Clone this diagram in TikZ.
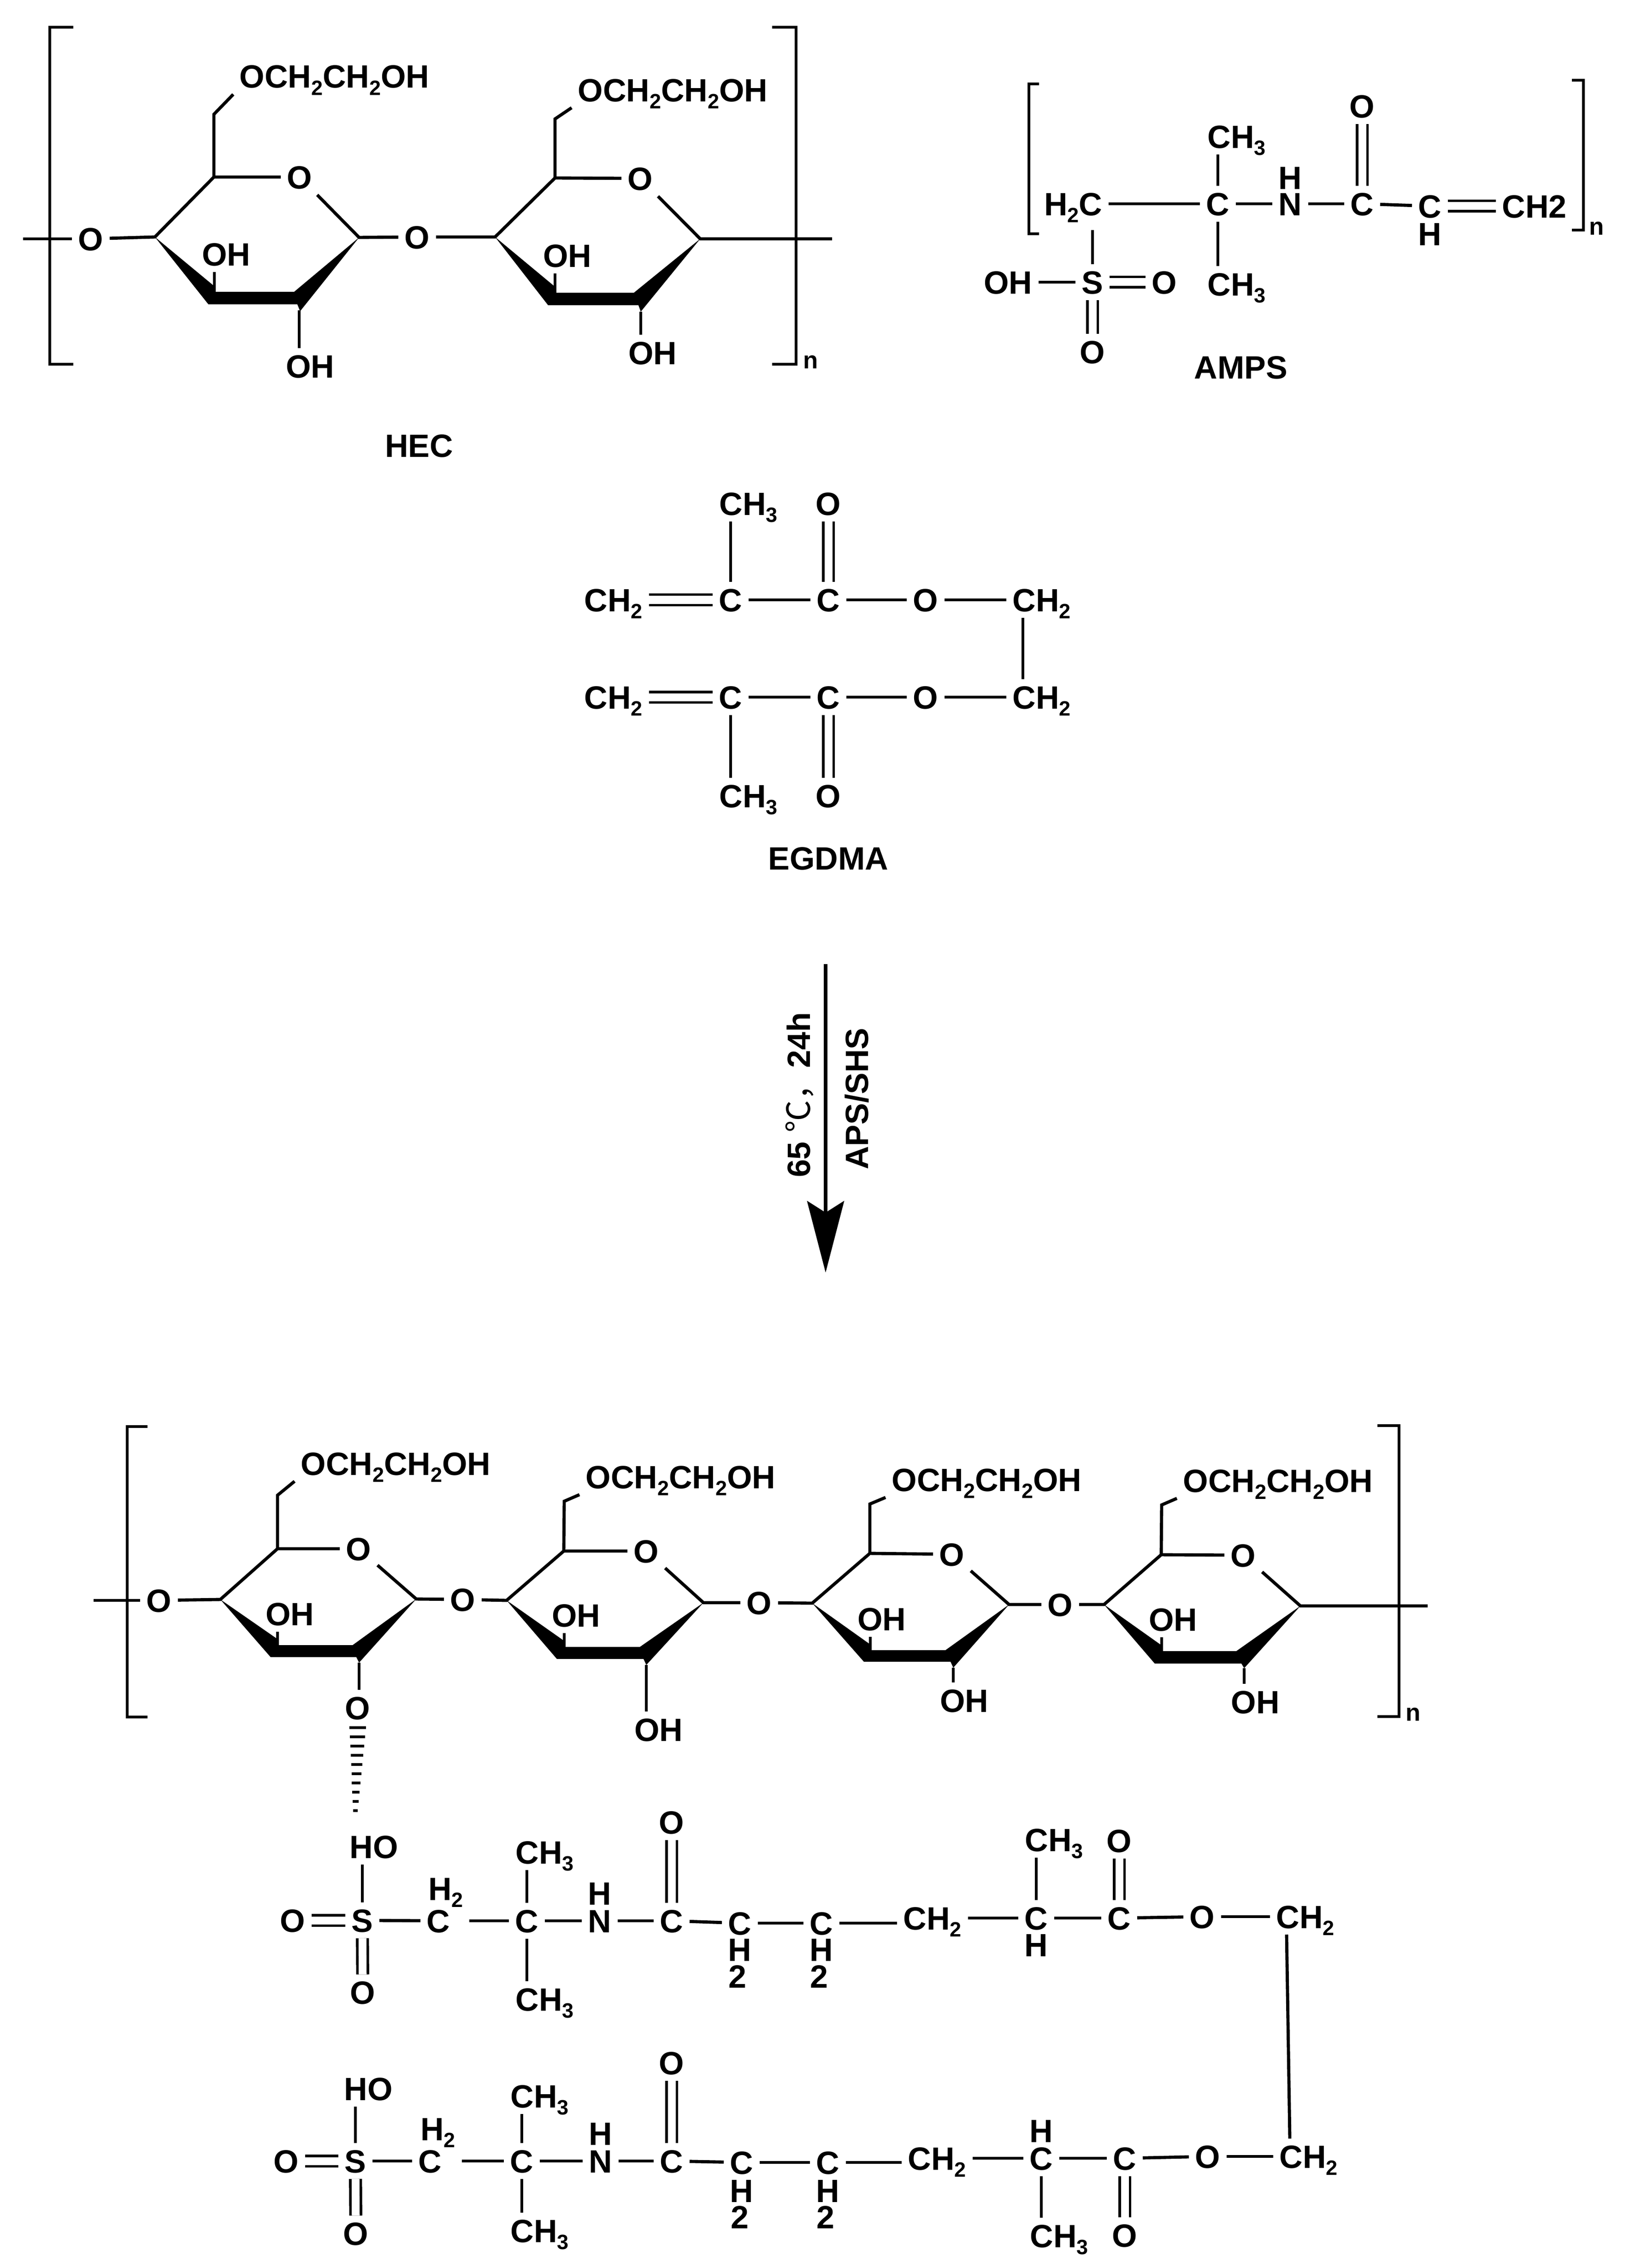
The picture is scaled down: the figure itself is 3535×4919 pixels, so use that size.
\documentclass[tikz,border=0pt]{standalone}
\usepackage{fontspec}
\setmainfont{Liberation Sans}
\newfontfamily\cjkf{Noto Sans CJK SC}
\usetikzlibrary{arrows.meta,calc}
\newcommand\subn[1]{\raisebox{-.15cm}{\fontsize{12.8pt}{14pt}\selectfont #1}}
\newcommand\atom[4]{\node[lbl] (#1) at (#2,#3) {#4};}
\newcommand\stk[4]{\node[lbl,inner ysep=0pt] (#1) at (#2,#3) {#4};}
\newcommand\tagn[4]{\node[lbl,inner sep=0pt] (#1) at (#2,#3) {#4};}
\newcommand\labW[4]{\node[lbl,anchor=west,xshift=-.13cm] (#1) at (#2,#3) {#4};}
\newcommand\labE[4]{\node[lbl,anchor=east,xshift=.13cm] (#1) at (#2,#3) {#4};}
\newcommand\brkL[4]{\draw[bond] (#3,#1) -- (#2,#1) -- (#2,#4) -- (#3,#4);}
\newcommand\side{OCH\subn{2}CH\subn{2}OH}
\tikzset{
  lbl/.style={font=\fontsize{19.9pt}{24pt}\selectfont\bfseries,text height=.5cm,text depth=0pt,inner sep=.13cm},
  nlbl/.style={font=\fontsize{15pt}{18pt}\selectfont\bfseries,inner sep=0pt},
  bond/.style={line width=1.95pt,black},
  dbl/.style={line width=1.6pt,double,double distance=.17cm},
}
\begin{document}
\begin{tikzpicture}[x=0.01cm,y=-0.01cm]
\useasboundingbox (0,0) rectangle (3535,4919);

% ---------- HEC ----------
\brkL{59}{108}{159}{790}
\brkL{59}{1727}{1675}{790}
\node[nlbl] (hecn) at (1759,785) {n};
\coordinate (hecL) at (50,518);
\coordinate (hecR) at (1805,518);
\atom{hO}{197}{518}{O}
\coordinate (aC4) at (336,514);
\coordinate (aC5) at (464,384);
\coordinate (aCH) at (464,248);
\atom{aO}{650}{384}{O}
\coordinate (aC1) at (779,515);
\atom{hB}{905}{514}{O}
\coordinate (bC4) at (1074,514);
\coordinate (bC5) at (1204,386);
\coordinate (bCH) at (1204,258);
\atom{bO}{1389}{387}{O}
\coordinate (bC1) at (1519,518);
\labW{aS}{519}{166}{\side}
\labW{bS}{1253}{195}{\side}
\atom{aOHu}{491}{551}{OH}
\atom{aOHd}{673}{794}{OH}
\atom{bOHu}{1231}{554}{OH}
\atom{bOHd}{1416}{765}{OH}
\coordinate (aU) at (465,633);
\coordinate (aD) at (649,673);
\coordinate (bU) at (1204,635);
\coordinate (bD) at (1390,676);
\fill (aC4) -- (464,620) -- (464,633) -- (638,633) -- (aC1) -- (651,675) -- (645,660) -- (452,660) -- cycle;
\fill (bC4) -- (1204,622) -- (1204,635) -- (1375,635) -- (bC1) -- (1390,676) -- (1385,662) -- (1189,662) -- cycle;
\draw[bond] (hecL) -- (hO);
\draw[bond] (hO) -- (aC4) -- (aC5) -- (aO);
\draw[bond] (aO) -- (aC1) -- (hB);
\draw[bond] (hB) -- (bC4) -- (bC5) -- (bO);
\draw[bond] (bO) -- (bC1) -- (hecR);
\draw[bond] (aC5) -- (aCH) -- (aS.south west);
\draw[bond] (bC5) -- (bCH) -- (bS.south west);
\draw[bond] (aU) -- (aOHu.south -| aU);
\draw[bond] (aD) -- (aOHd.north -| aD);
\draw[bond] (bU) -- (bOHu.south -| bU);
\draw[bond] (bD) -- (bOHd.north -| bD);
\atom{hec}{909}{966}{HEC}

% ---------- AMPS ----------
\brkL{182}{2232}{2254}{507}
\brkL{174}{3435}{3410}{499}
\node[nlbl] (ampsn) at (3464,495) {n};
\labE{mH}{2392}{442}{H\subn{2}C}
\atom{mC}{2642}{442}{C}
\labW{mMe}{2619}{296}{CH\subn{3}}
\labW{mMf}{2619}{616}{CH\subn{3}}
\stk{mN}{2799}{442}{N}
\tagn{mNH}{2799}{385}{H}
\atom{mCO}{2955}{442}{C}
\atom{mO}{2955}{230}{O}
\stk{mCH}{3102}{447}{C}
\tagn{mHH}{3102}{507}{H}
\labW{mEnd}{3258}{447}{CH2}
\atom{mS}{2370}{612}{S}
\atom{mOH}{2187}{612}{OH}
\atom{mOr}{2526}{612}{O}
\atom{mOb}{2370}{763}{O}
\draw[bond] (mC) -- (mH.east |- mC);
\draw[bond] (mC) -- (mMe.south -| mC);
\draw[bond] (mC) -- (mMf.north -| mC);
\draw[bond] (mC) -- (mN);
\draw[bond] (mN) -- (mCO);
\draw[dbl] (mCO) -- (mO);
\draw[bond] (mCO) -- (mCH);
\draw[dbl] (mCH) -- (mEnd.west |- mCH);
\draw[bond] (mS) -- ([yshift=-.18cm]mH.south -| mS);
\draw[bond] (mOH) -- (mS);
\draw[dbl] (mS) -- (mOr);
\draw[dbl] (mS) -- (mOb);
\atom{amps}{2692}{796}{AMPS}

% ---------- EGDMA ----------
\labW{eA}{1267}{1301}{CH\subn{2}}
\atom{eC1}{1585}{1301}{C}
\atom{eC2}{1797}{1301}{C}
\atom{eO1}{2008}{1301}{O}
\labW{eB}{2196}{1301}{CH\subn{2}}
\labW{eMe}{1560}{1092}{CH\subn{3}}
\atom{eOt}{1797}{1092}{O}
\labW{eC}{1267}{1512}{CH\subn{2}}
\atom{eC3}{1585}{1512}{C}
\atom{eC4}{1797}{1512}{C}
\atom{eO2}{2008}{1512}{O}
\labW{eD}{2196}{1512}{CH\subn{2}}
\labW{eMf}{1560}{1726}{CH\subn{3}}
\atom{eOb}{1797}{1726}{O}
\draw[dbl] (eC1) -- (eA.east |- eC1);
\draw[bond] (eC1) -- (eC2);
\draw[bond] (eC2) -- (eO1);
\draw[bond] (eO1) -- (eB.west |- eO1);
\draw[bond] (eC1) -- (eMe.south -| eC1);
\draw[dbl] (eC2) -- (eOt);
\draw[dbl] (eC3) -- (eC.east |- eC3);
\draw[bond] (eC3) -- (eC4);
\draw[bond] (eC4) -- (eO2);
\draw[bond] (eO2) -- (eD.west |- eO2);
\draw[bond] (eC3) -- (eMf.north -| eC3);
\draw[dbl] (eC4) -- (eOb);
\draw[bond] ([xshift=.36cm]eB.south west) -- ([xshift=.36cm]eD.north west);
\atom{egdma}{1797}{1861}{EGDMA}

% ---------- Arrow ----------
\coordinate (arS) at (1791,2091);
\coordinate (arE) at (1791,2760);
\draw[line width=2.1pt,-{Stealth[length=1.55cm,width=.8cm,inset=.25cm]}] (arS) -- (arE);
\node[lbl,rotate=90] (cond) at (1732,2375) {65 {\cjkf\mdseries ℃，}24h};
\node[lbl,rotate=90] (init) at (1858,2383) {APS/SHS};

% ---------- Product backbone ----------
\brkL{3094}{276}{320}{3724}
\brkL{3092}{3035}{2988}{3723}
\node[nlbl] (prodn) at (3066,3718) {n};
\coordinate (pL) at (203,3471);
\coordinate (pR) at (3097,3483);
\atom{pO0}{345}{3471}{O}
\coordinate (pC4) at (478,3469);
\coordinate (pC5) at (602,3359);
\coordinate (pCH) at (602,3243);
\atom{pO}{778}{3359}{O}
\coordinate (pC1) at (903,3468);
\atom{pB}{1004}{3469}{O}
\coordinate (qC4) at (1099,3471);
\coordinate (qC5) at (1223,3364);
\coordinate (qCH) at (1224,3256);
\atom{qO}{1402}{3364}{O}
\coordinate (qC1) at (1526,3476);
\atom{qB}{1647}{3476}{O}
\coordinate (rC4) at (1762,3477);
\coordinate (rC5) at (1887,3369);
\coordinate (rCH) at (1887,3262);
\atom{rO}{2065}{3371}{O}
\coordinate (rC1) at (2189,3480);
\atom{rB}{2300}{3480}{O}
\coordinate (sC4) at (2395,3480);
\coordinate (sC5) at (2519,3372);
\coordinate (sCH) at (2520,3264);
\atom{sO}{2697}{3373}{O}
\coordinate (sC1) at (2821,3483);
\labW{pS}{652}{3174}{\side}
\labW{qS}{1270}{3203}{\side}
\labW{rS}{1934}{3209}{\side}
\labW{sS}{2566}{3211}{\side}
\atom{pOHu}{629}{3500}{OH}
\atom{qOHu}{1250}{3503}{OH}
\atom{rOHu}{1913}{3511}{OH}
\atom{sOHu}{2545}{3512}{OH}
\atom{pOd}{776}{3704}{O}
\atom{qOHd}{1429}{3751}{OH}
\atom{rOHd}{2092}{3688}{OH}
\atom{sOHd}{2723}{3691}{OH}
\coordinate (pU) at (602,3568);
\coordinate (qU) at (1224,3572);
\coordinate (rU) at (1888,3579);
\coordinate (sU) at (2520,3581);
\coordinate (pD) at (779,3606);
\coordinate (qD) at (1402,3611);
\coordinate (rD) at (2068,3617);
\coordinate (sD) at (2699,3618);
\fill (pC4) -- (602,3555) -- (602,3568) -- (765,3568) -- (pC1) -- (779,3606) -- (773,3594) -- (587,3594) -- cycle;
\fill (qC4) -- (1224,3559) -- (1224,3572) -- (1388,3572) -- (qC1) -- (1402,3611) -- (1396,3598) -- (1208,3598) -- cycle;
\fill (rC4) -- (1887,3566) -- (1887,3579) -- (2051,3579) -- (rC1) -- (2068,3617) -- (2062,3604) -- (1874,3604) -- cycle;
\fill (sC4) -- (2519,3568) -- (2519,3581) -- (2682,3581) -- (sC1) -- (2699,3618) -- (2693,3608) -- (2505,3608) -- cycle;
\draw[bond] (pL) -- (pO0);
\draw[bond] (pO0) -- (pC4) -- (pC5) -- (pO);
\draw[bond] (pO) -- (pC1) -- (pB);
\draw[bond] (pB) -- (qC4) -- (qC5) -- (qO);
\draw[bond] (qO) -- (qC1) -- (qB);
\draw[bond] (qB) -- (rC4) -- (rC5) -- (rO);
\draw[bond] (rO) -- (rC1) -- (rB);
\draw[bond] (rB) -- (sC4) -- (sC5) -- (sO);
\draw[bond] (sO) -- (sC1) -- (pR);
\draw[bond] (pC5) -- (pCH) -- (pS.south west);
\draw[bond] (qC5) -- (qCH) -- (qS.south west);
\draw[bond] (rC5) -- (rCH) -- (rS.south west);
\draw[bond] (sC5) -- (sCH) -- (sS.south west);
\draw[bond] (pU) -- (pOHu.south -| pU);
\draw[bond] (qU) -- (qOHu.south -| qU);
\draw[bond] (rU) -- (rOHu.south -| rU);
\draw[bond] (sU) -- (sOHu.south -| sU);
\draw[bond] (pD) -- (pOd.north -| pD);
\draw[bond] (qD) -- (qOHd.north -| qD);
\draw[bond] (rD) -- (rOHd.north -| rD);
\draw[bond] (sD) -- (sOHd.north -| sD);
% hashed wedge
\foreach \i in {0,...,9}{
  \pgfmathsetmacro\hy{3747+20*\i}
  \pgfmathsetmacro\hc{776-0.55*\i}
  \pgfmathsetmacro\hw{18-1.45*\i}
  \draw[line width=1.7pt] ({\hc-\hw},\hy) -- ({\hc+\hw},\hy);
}

% ---------- Chain 1 ----------
\atom{uHO}{811}{4005}{HO}
\atom{uS}{786}{4165}{S}
\atom{uOl}{635}{4165}{O}
\atom{uOb}{787}{4321}{O}
\atom{uC1}{951}{4166}{C}
\tagn{uH2}{967}{4096}{H\subn{2}}
\atom{uC2}{1143}{4166}{C}
\labW{uMe}{1118}{4017}{CH\subn{3}}
\labW{uMf}{1118}{4336}{CH\subn{3}}
\stk{uN}{1301}{4166}{N}
\tagn{uNH}{1301}{4106}{H}
\atom{uC3}{1457}{4166}{C}
\atom{uOt}{1457}{3952}{O}
\stk{uC4}{1605}{4171}{C}
\tagn{uC4H}{1605}{4228}{H}
\tagn{uC4n}{1600}{4286}{2}
\stk{uC5}{1782}{4171}{C}
\tagn{uC5H}{1782}{4228}{H}
\tagn{uC5n}{1777}{4286}{2}
\labW{uCH}{1959}{4160}{CH\subn{2}}
\stk{uC6}{2248}{4160}{C}
\tagn{uC6H}{2248}{4218}{H}
\labW{uMg}{2223}{3990}{CH\subn{3}}
\atom{uC7}{2428}{4160}{C}
\atom{uOu}{2428}{3992}{O}
\atom{uOe}{2608}{4157}{O}
\labW{uEnd}{2768}{4157}{CH\subn{2}}
\draw[bond] (uS) -- (uHO.south -| uS);
\draw[dbl] (uOl) -- (uS);
\draw[dbl] (uS) -- (uOb);
\draw[bond] (uS) -- (uC1);
\draw[bond] ([xshift=.28cm]uC1.east) -- (uC2);
\draw[bond] (uC2) -- (uMe.south -| uC2);
\draw[bond] (uC2) -- (uMf.north -| uC2);
\draw[bond] (uC2) -- (uN);
\draw[bond] (uN) -- (uC3);
\draw[dbl] (uC3) -- (uOt);
\draw[bond] (uC3) -- (uC4);
\draw[bond] (uC4) -- (uC5);
\draw[bond] (uC5) -- (uCH.west |- uC5);
\draw[bond] (uC6) -- (uCH.east |- uC6);
\draw[bond] ([yshift=.13cm]uC6.north) -- (uMg.south -| uC6);
\draw[bond] (uC6) -- (uC7);
\draw[dbl] (uC7) -- (uOu);
\draw[bond] (uC7) -- (uOe);
\draw[bond] (uOe) -- (uEnd.west |- uOe);

% ---------- Chain 2 ----------
\atom{dHO}{799}{4530}{HO}
\atom{dS}{771}{4687}{S}
\atom{dOl}{621}{4687}{O}
\atom{dOb}{772}{4844}{O}
\atom{dC1}{933}{4687}{C}
\tagn{dH2}{950}{4617}{H\subn{2}}
\atom{dC2}{1132}{4687}{C}
\labW{dMe}{1107}{4546}{CH\subn{3}}
\labW{dMf}{1107}{4838}{CH\subn{3}}
\stk{dN}{1303}{4687}{N}
\tagn{dNH}{1303}{4627}{H}
\atom{dC3}{1457}{4687}{C}
\atom{dOt}{1457}{4474}{O}
\stk{dC4}{1609}{4690}{C}
\tagn{dC4H}{1609}{4751}{H}
\tagn{dC4n}{1605}{4808}{2}
\stk{dC5}{1796}{4690}{C}
\tagn{dC5H}{1796}{4751}{H}
\tagn{dC5n}{1791}{4808}{2}
\labW{dCH}{1969}{4681}{CH\subn{2}}
\stk{dC6}{2259}{4681}{C}
\tagn{dC6H}{2259}{4621}{H}
\labW{dMg}{2234}{4849}{CH\subn{3}}
\atom{dC7}{2440}{4681}{C}
\atom{dOu}{2440}{4848}{O}
\atom{dOe}{2620}{4677}{O}
\labW{dEnd}{2775}{4677}{CH\subn{2}}
\draw[bond] (dS) -- (dHO.south -| dS);
\draw[dbl] (dOl) -- (dS);
\draw[dbl] (dS) -- (dOb);
\draw[bond] (dS) -- (dC1);
\draw[bond] ([xshift=.3cm]dC1.east) -- (dC2);
\draw[bond] (dC2) -- (dMe.south -| dC2);
\draw[bond] (dC2) -- (dMf.north -| dC2);
\draw[bond] (dC2) -- (dN);
\draw[bond] (dN) -- (dC3);
\draw[dbl] (dC3) -- (dOt);
\draw[bond] (dC3) -- (dC4);
\draw[bond] (dC4) -- (dC5);
\draw[bond] (dC5) -- (dCH.west |- dC5);
\draw[bond] (dC6) -- (dCH.east |- dC6);
\draw[bond] ([yshift=-.13cm]dC6.south) -- (dMg.north -| dC6);
\draw[bond] (dC6) -- (dC7);
\draw[dbl] (dC7) -- (dOu);
\draw[bond] (dC7) -- (dOe);
\draw[bond] (dOe) -- (dEnd.west |- dOe);
\draw[bond] ([xshift=.36cm]uEnd.south west) -- ([xshift=.36cm]dEnd.north west);
\end{tikzpicture}
\end{document}
